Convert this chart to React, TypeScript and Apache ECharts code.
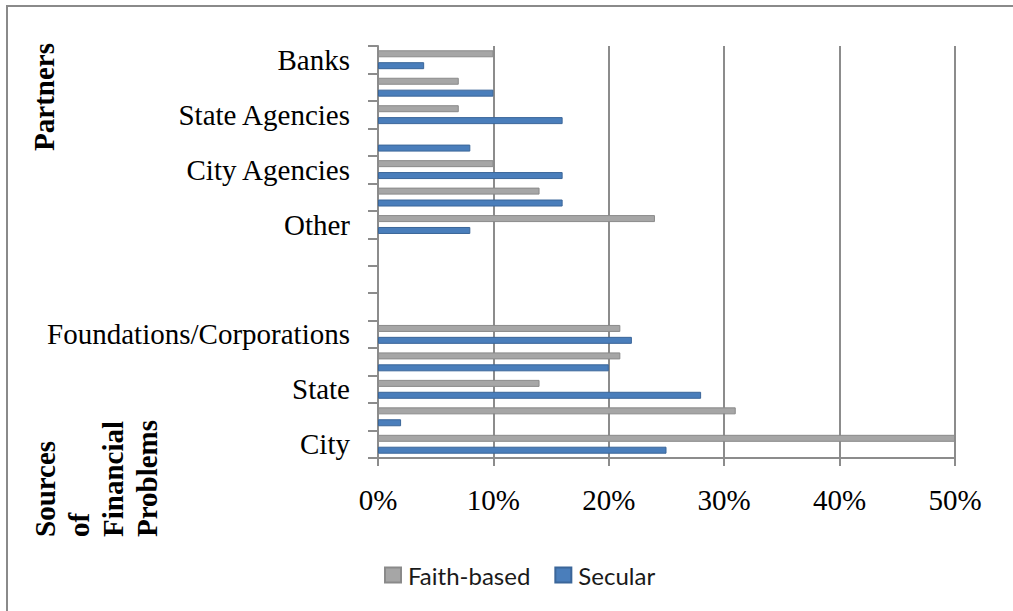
import React, { useEffect, useRef } from "react";
import * as echarts from "echarts";

// Categories from bottom to top (ECharts category y-axis starts at the bottom)
const categories = [
  "City",
  "",
  "State",
  "",
  "Foundations/Corporations",
  "",
  "",
  "",
  "Other",
  "",
  "City Agencies",
  "",
  "State Agencies",
  "",
  "Banks",
];
const faithBased = [50, 31, 14, 21, 21, null, null, null, 24, 14, 10, 0, 7, 7, 10];
const secular = [25, 2, 28, 20, 22, null, null, null, 8, 16, 16, 8, 16, 10, 4];
const xTickValues = [0, 10, 20, 30, 40, 50];
const seriesNames = ["Faith-based", "Secular"];

const SERIF = '"Liberation Serif", "Times New Roman", serif';

export default function App() {
  const ref = useRef<HTMLDivElement>(null);

  useEffect(() => {
    if (!ref.current) return;
    const chart = echarts.init(ref.current, undefined, { renderer: "svg" });
    const gray = "#a6a6a6";
    const blue = "#4a7ebb";
    const axisGray = "#8c8c8c";
    chart.setOption({
      animation: false,
      backgroundColor: "#ffffff",
      grid: { left: 378, right: 58, top: 46, bottom: 153, containLabel: false },
      legend: {
        data: seriesNames,
        left: 384,
        top: 563,
        padding: 0,
        itemWidth: 16,
        itemHeight: 15,
        itemGap: 24,
        icon: "rect",
        textStyle: {
          fontFamily: "Lato",
          fontSize: 24,
          color: "#1a1a1a",
          padding: [0, 0, 0, 2],
        },
      },
      xAxis: {
        type: "value",
        min: xTickValues[0],
        max: xTickValues[xTickValues.length - 1],
        interval: xTickValues[1] - xTickValues[0],
        axisLine: { show: true, lineStyle: { color: axisGray, width: 2 } },
        axisTick: { show: true, length: 8, lineStyle: { color: axisGray, width: 2 } },
        splitLine: { show: true, lineStyle: { color: axisGray, width: 2 } },
        axisLabel: {
          formatter: "{value}%",
          fontFamily: SERIF,
          fontSize: 29,
          color: "#000",
          margin: 27,
        },
      },
      yAxis: {
        type: "category",
        data: categories,
        axisLine: { show: true, lineStyle: { color: axisGray, width: 2 } },
        axisTick: {
          show: true,
          length: 10,
          interval: 0,
          alignWithLabel: false,
          lineStyle: { color: axisGray, width: 2 },
        },
        axisLabel: {
          interval: 0,
          fontFamily: SERIF,
          fontSize: 29,
          color: "#000",
          margin: 28,
        },
        splitLine: { show: false },
      },
      series: [
        {
          name: seriesNames[0],
          type: "bar",
          data: faithBased,
          barWidth: 7,
          barGap: "70%",
          itemStyle: { color: gray, borderColor: "#8a8a8a", borderWidth: 1 },
        },
        {
          name: seriesNames[1],
          type: "bar",
          data: secular,
          barWidth: 7,
          barGap: "70%",
          itemStyle: { color: blue, borderColor: "#3b6699", borderWidth: 1 },
        },
      ],
      graphic: [
        {
          type: "polyline",
          shape: { points: [[7, 700], [7, 6], [1100, 6]] },
          style: { fill: "none", stroke: "#8a8a8a", lineWidth: 2 },
          silent: true,
        },
        {
          type: "text",
          x: 44,
          y: 97,
          rotation: Math.PI / 2,
          style: {
            text: "Partners",
            font: `bold 29px ${SERIF}`,
            fill: "#000",
            align: "center",
            verticalAlign: "middle",
          },
        },
        {
          type: "text",
          x: 96,
          y: 537,
          rotation: Math.PI / 2,
          style: {
            text: "Sources\nof\nFinancial\nProblems",
            font: `bold 29px ${SERIF}`,
            fill: "#000",
            align: "left",
            verticalAlign: "middle",
            lineHeight: 34,
          },
        },
      ],
    });
    return () => chart.dispose();
  }, []);

  return (
    <div
      ref={ref}
      style={{ position: "absolute", left: 0, top: 0, width: 1013, height: 611 }}
    />
  );
}
